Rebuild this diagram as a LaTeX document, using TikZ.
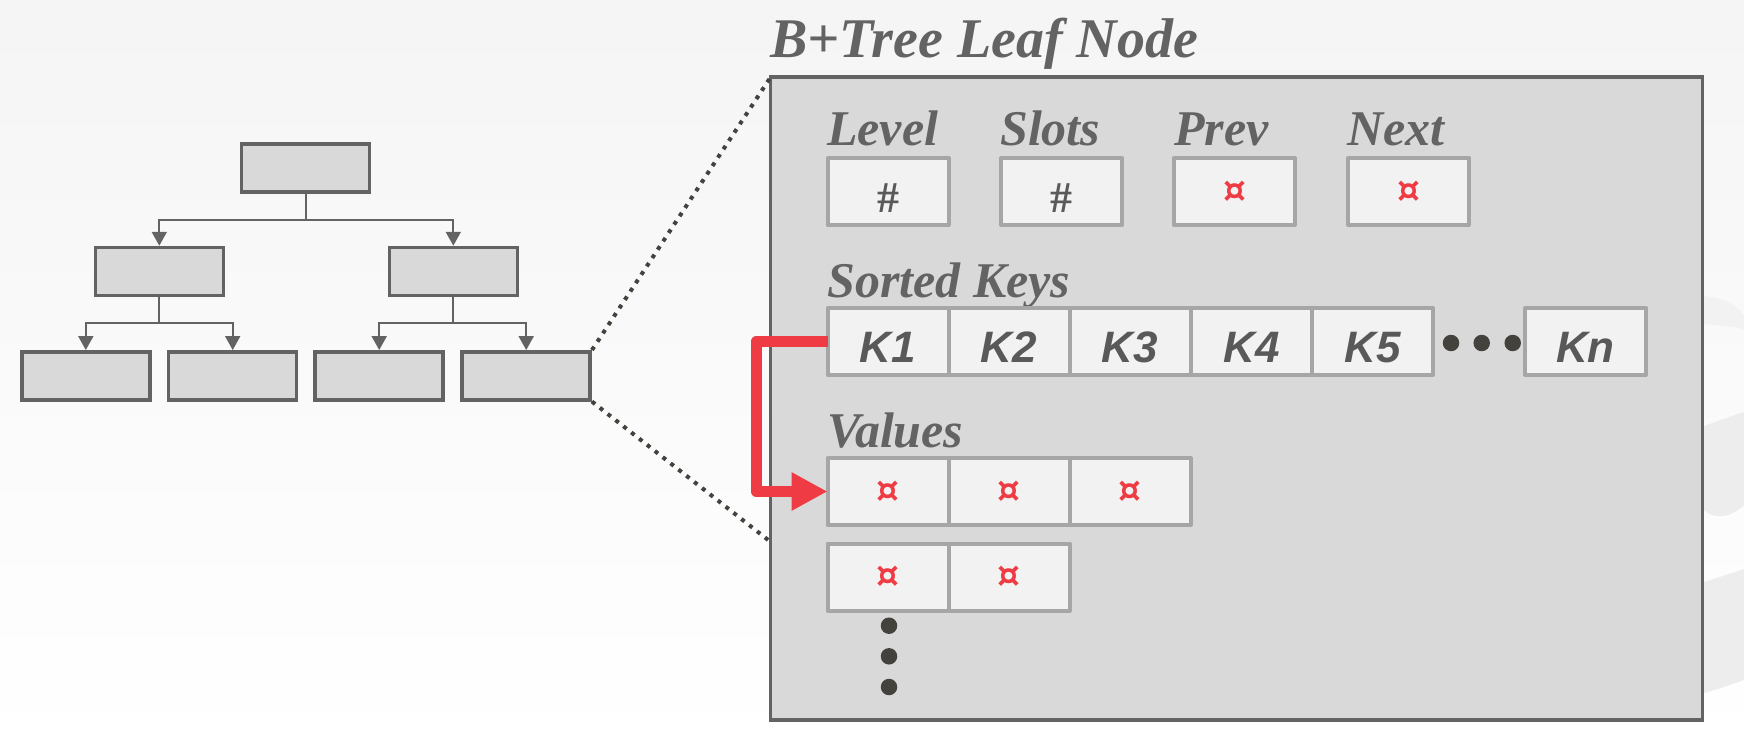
\documentclass[tikz,border=0pt]{standalone}
\usepackage{fontspec}
\usepackage{tikz}
\usetikzlibrary{arrows.meta}
\setmainfont{Liberation Serif}
\newfontfamily\cellfont{Liberation Sans}
\newfontfamily\ptrfont{DejaVu Sans}
\definecolor{boxgray}{HTML}{D9D9D9}
\definecolor{cellgray}{HTML}{F2F2F2}
\definecolor{rimgray}{HTML}{A6A6A6}
\definecolor{inkgray}{HTML}{636363}
\definecolor{dotgray}{HTML}{44423C}
\definecolor{ptrred}{HTML}{EF3B43}
\tikzset{
  treenode/.style={draw=inkgray,fill=boxgray,line width=3.5pt,minimum width=128pt,minimum height=48pt,inner sep=0pt},
  treeline/.style={draw=inkgray,line width=2pt,-{Triangle[length=14pt,width=15pt]}},
  zoomline/.style={draw=dotgray,line width=4pt,dash pattern=on 4pt off 6pt},
  leafbox/.style={draw=inkgray,fill=boxgray,line width=3.5pt,minimum width=932pt,minimum height=643pt,inner sep=0pt},
  cell/.style={draw=rimgray,fill=cellgray,line width=4pt,minimum width=121pt,minimum height=67pt,inner sep=0pt,outer sep=0pt,line join=round},
  keycell/.style={cell,text=inkgray!90!black,font=\cellfont\bfseries\itshape\fontsize{44}{44}\selectfont,text height=42pt,text depth=0pt},
  numcell/.style={cell,text=inkgray!90!black,font=\bfseries\fontsize{44}{44}\selectfont,text height=42pt,text depth=0pt},
  ptrcell/.style={cell,text=ptrred,font=\ptrfont\bfseries\fontsize{36}{36}\selectfont},
  fieldname/.style={anchor=base west,inner sep=0pt,text=inkgray,font=\bfseries\itshape\fontsize{50}{50}\selectfont},
  moredot/.style={circle,fill=dotgray,minimum size=16.5pt,inner sep=0pt},
  ptrline/.style={draw=ptrred,line width=11.5pt,line join=round,-{Triangle[length=36pt,width=36pt]}}
}
\begin{document}
\begin{tikzpicture}[x=1pt,y=-1pt]
\useasboundingbox (0,0) rectangle (1744,746);
\shade[top color=black!4,bottom color=white] (0,0) rectangle (1744,746);
\fill[black!5] (1704,324) .. controls (1720,325) and (1735,327) .. (1744,329) -- (1744,316) .. controls (1735,302) and (1720,298) .. (1704,296) -- cycle;
\fill[black!7] (1704,426) .. controls (1720,420) and (1735,415) .. (1744,412) -- (1744,505) .. controls (1730,518) and (1715,520) .. (1704,510) -- cycle;
\fill[black!7] (1704,582) .. controls (1720,577) and (1735,572) .. (1744,569) -- (1744,680) .. controls (1730,685) and (1715,690) .. (1704,693) -- cycle;
\node[treenode] (root) at (305.5,167.8) {};
\node[treenode] (midl) at (159.3,271.5) {};
\node[treenode] (midr) at (453.3,271.5) {};
\node[treenode] (low1) at (85.8,375.8) {};
\node[treenode] (low2) at (232.7,375.8) {};
\node[treenode] (low3) at (379.2,375.8) {};
\node[treenode] (low4) at (526.2,375.8) {};
\draw[treeline] (root.south) -- ++(0,26) -| (midl.north);
\draw[treeline] (root.south) -- ++(0,26) -| (midr.north);
\draw[treeline] (midl.south) -- ++(0,26) -| (low1.north);
\draw[treeline] (midl.south) -- ++(0,26) -| (low2.north);
\draw[treeline] (midr.south) -- ++(0,26) -| (low3.north);
\draw[treeline] (midr.south) -- ++(0,26) -| (low4.north);
\node[leafbox] (leaf) at (1236.5,398.5) {};
\coordinate (zoomtop) at (770.7,77);
\coordinate (zoombot) at (770.7,542);
\draw[zoomline] (low4.north east) -- (zoomtop);
\draw[zoomline] (low4.south east) -- (zoombot);
\node[anchor=base west,inner sep=0pt,text=inkgray,font=\bfseries\itshape\fontsize{56}{56}\selectfont] (title) at (770,58) {B+Tree Leaf Node};
\node[numcell] (level) at (888,191.5) {\#};
\node[numcell] (slots) at (1061.5,191.5) {\#};
\node[ptrcell] (prev) at (1234.5,191.5) {¤};
\node[ptrcell] (next) at (1408.5,191.5) {¤};
\node[fieldname] (levelname) at (827,146) {Level};
\node[fieldname] (slotsname) at (1000,146) {Slots};
\node[fieldname] (prevname) at (1174,146) {Prev};
\node[fieldname] (nextname) at (1347,146) {Next};
\node[fieldname] (keysname) at (827,297) {Sorted Keys};
\node[fieldname] (valsname) at (827,447) {Values};
\foreach \i/\xc in {1/888,2/1009,3/1130,4/1251.5,5/1372.5}
  \node[keycell] (k\i) at (\xc,341.5) {K\i};
\node[keycell] (kn) at (1585.5,341.5) {Kn};
\foreach \i/\xc in {1/888,2/1009,3/1130}
  \node[ptrcell] (v\i) at (\xc,491.5) {¤};
\foreach \i/\xc in {1/888,2/1009}
  \node[ptrcell] (w\i) at (\xc,577) {¤};
\foreach \i/\xc in {1/1451,2/1481.7,3/1512.7}
  \node[moredot] (hdot\i) at (\xc,343) {};
\foreach \i/\yc in {1/625.7,2/656.3,3/687}
  \node[moredot] (vdot\i) at (889,\yc) {};
\draw[ptrline] (k1.west) -- ++(-71,0) |- (v1.west);
\end{tikzpicture}
\end{document}
